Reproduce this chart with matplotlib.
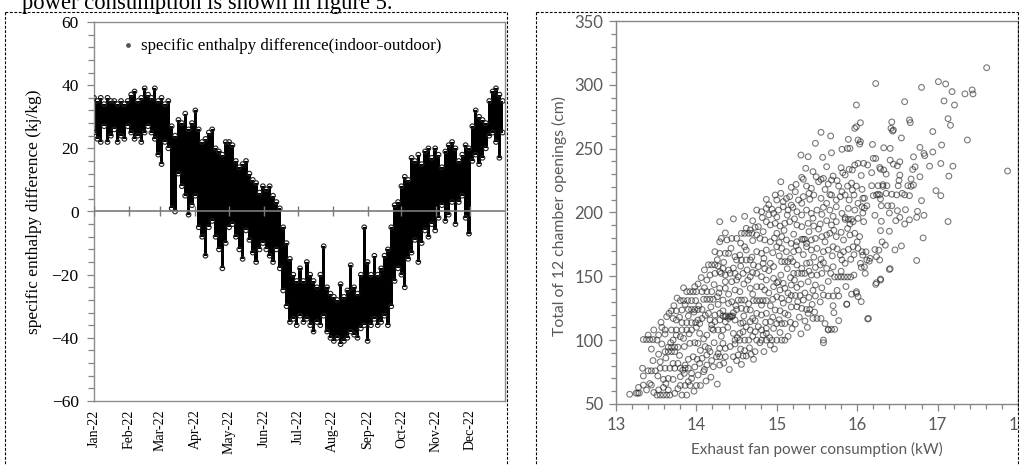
import numpy as np
import matplotlib.pyplot as plt
import matplotlib.dates as mdates
from matplotlib.ticker import MultipleLocator
from matplotlib.lines import Line2D

# ---- left panel: enthalpy difference, upper / lower edge of the cloud read every 3 days
day_of_year = np.arange(1, 365, 3)
dh_high = [36, 35, 36, 34, 36, 35, 35, 34, 35, 34,
           35, 37, 38, 35, 36, 39, 37, 36, 39, 35,
           36, 34, 35, 27, 24, 29, 28, 31, 26, 28,
           32, 26, 22, 23, 25, 26, 20, 19, 18, 22,
           22, 21, 16, 14, 15, 16, 12, 10, 9, 6,
           8, 7, 8, 5, 3, 1, -5, -10, -15, -20,
           -22, -18, -22, -16, -20, -22, -24, -20, -11, -24,
           -26, -27, -28, -23, -27, -25, -17, -24, -26, -20,
           -5, -16, -20, -14, -20, -18, -14, -12, -5, 2,
           3, 8, 11, 10, 17, 16, 18, 15, 19, 20,
           17, 20, 18, 14, 19, 21, 22, 20, 16, 18,
           21, 20, 27, 32, 30, 29, 28, 35, 38, 39,
           37, 35]
dh_low = [25, 23, 22, 27, 22, 24, 26, 22, 24, 23,
          27, 25, 23, 24, 22, 25, 27, 25, 23, 18,
          15, 22, 20, 1, 0, 12, 8, 5, -1, 2,
          5, -5, -8, -14, -5, -3, -8, -12, -18, -10,
          -5, -4, -8, -12, -15, -6, -9, -13, -16, -12,
          -10, -12, -14, -16, -12, -18, -25, -30, -35, -34,
          -36, -33, -35, -34, -36, -38, -35, -36, -33, -38,
          -40, -41, -40, -42, -41, -40, -38, -39, -40, -37,
          -36, -41, -36, -34, -36, -35, -33, -36, -30, -22,
          -18, -20, -24, -15, -13, -9, -16, -10, -6, -8,
          -4, -6, -2, 2, -3, -1, 3, -4, 3, 5,
          -2, -7, 16, 18, 15, 17, 20, 24, 25, 22,
          17, 25]
month_starts = np.arange('2022-01', '2023-01', dtype='datetime64[M]').astype('datetime64[D]')

# ---- right panel: exhaust fan power (kW) vs total chamber opening (cm)
run_cm = [58.5, 57, 64.5, 76, 78, 91, 87, 100.5, 94.5, 100, 100, 108, 108, 113,
          113.7, 117, 124, 131, 132, 131.4, 131, 135, 134.6, 138, 152.3, 149.5,
          159, 162.8, 161.5, 183.7, 179, 194.6, 119, 108.5]
run_kw = [[13.25, 13.27, 13.29], [13.51, 13.55, 13.59, 13.63, 13.67],
          [13.80, 13.86, 13.92, 14.00, 14.05], [13.40, 13.44, 13.49],
          [13.55, 13.61, 13.67, 13.73, 13.80, 13.86, 13.90], [13.61, 13.65, 13.69, 13.73],
          [14.25, 14.29, 14.36], [13.34, 13.38, 13.42, 13.46], [13.65, 13.69, 13.73, 13.77],
          [14.48, 14.54, 14.60, 14.65], [14.75, 14.81, 14.87, 14.94, 15.00, 15.06, 15.10],
          [13.61, 13.69, 13.75, 13.82, 13.88, 13.94], [14.21, 14.27, 14.33],
          [15.00, 15.06, 15.10], [13.82, 13.88, 13.94, 13.99], [15.45, 15.50, 15.55],
          [13.90, 13.94, 13.98, 14.02, 14.07], [13.80, 13.84, 13.89, 13.94, 13.99],
          [14.09, 14.13, 14.17, 14.21], [14.52, 14.56, 14.60],
          [14.71, 14.75, 14.79, 14.83, 14.87], [15.18, 15.23, 15.29], [15.64, 15.70, 15.77],
          [13.88, 13.92, 13.96, 14.00, 14.07, 14.13, 14.19], [15.21, 15.26, 15.31, 15.35],
          [15.72, 15.76, 15.80, 15.84, 15.88, 15.92], [14.15, 14.19, 14.23],
          [14.50, 14.56, 14.62, 14.67], [15.06, 15.10, 15.14, 15.20],
          [14.56, 14.60, 14.65, 14.69], [15.31, 15.33, 15.35], [15.85, 15.89, 15.93],
          [14.33, 14.37, 14.41, 14.45], [15.64, 15.68, 15.72]]

low_pts = [(13.17, 57.6), (13.34, 64.8), (13.44, 64.8), (13.53, 61), (13.59, 63), (13.65, 61),
           (13.73, 58.3), (13.82, 57), (13.88, 57), (14.26, 65.6), (13.59, 69.3), (13.65, 70),
           (13.71, 69.3), (13.80, 71.4), (13.90, 67.5), (13.94, 70), (13.94, 74), (14.02, 72.7),
           (14.09, 75.3), (13.34, 72), (13.42, 66), (13.55, 83.1), (13.71, 81.8), (13.77, 81.8),
           (13.86, 80.5), (14.04, 81.8), (14.13, 80.5), (14.21, 79.2), (14.29, 80.5), (13.90, 85),
           (13.96, 87), (14.01, 85), (14.07, 85.8), (14.13, 88.4), (14.46, 87), (14.52, 88.4),
           (14.58, 87.6), (14.62, 87.6), (14.71, 85), (14.73, 91), (13.92, 97.5), (13.98, 98),
           (14.02, 97.5), (14.11, 95), (14.15, 93.6), (14.17, 91), (14.29, 93.6), (14.36, 93.6),
           (14.42, 95), (14.84, 91), (14.92, 96.2), (14.60, 91.8), (15.58, 98),
           (13.38, 61), (13.47, 59), (13.62, 66), (13.77, 62), (13.97, 60), (14.12, 68),
           (13.52, 72), (13.85, 74), (14.18, 71), (13.28, 63), (13.33, 78), (13.46, 84),
           (13.62, 86), (13.79, 88), (13.98, 79), (14.19, 84), (14.34, 82), (14.41, 77),
           (14.56, 81), (14.68, 89), (13.53, 89), (14.27, 89.5), (13.83, 76.5), (14.10, 77),
           (14.50, 84), (13.44, 93), (13.57, 97), (13.85, 95), (14.05, 92), (14.22, 98),
           (14.48, 97), (14.66, 94), (14.79, 98), (14.97, 93), (13.68, 98), (14.33, 97.5),
           (14.55, 93)]
mid_pts = [(13.51, 100.1), (13.53, 104), (13.71, 100.1), (13.80, 102.7), (13.84, 101.4),
           (13.61, 104.8), (13.75, 104), (14.04, 105.3), (14.13, 104), (14.46, 105.3),
           (14.54, 105.3), (14.58, 106.6), (14.67, 108), (14.73, 106.6), (14.83, 104),
           (14.87, 105.3), (15.23, 112.6), (14.87, 109.2), (14.96, 109.2), (13.71, 117),
           (13.75, 115.8), (14.02, 115.8), (14.07, 117), (14.17, 115.8), (14.23, 114.5),
           (14.29, 115.8), (14.36, 114.5), (14.42, 118.4), (14.48, 115.8), (14.55, 113.2),
           (14.58, 113.7), (14.67, 114.5), (14.73, 115.3), (14.77, 110.6), (14.81, 108),
           (14.92, 114.5), (15.58, 100.1), (15.77, 115.3), (15.39, 121), (13.69, 123),
           (13.75, 123), (13.82, 123.6), (13.63, 118.4), (14.15, 121), (14.23, 119.7),
           (14.29, 121), (14.36, 118.4), (14.40, 117), (14.44, 118.4), (14.50, 124),
           (14.56, 124.9), (14.62, 124), (14.67, 123.6), (14.75, 121), (14.81, 119.7),
           (14.87, 121), (14.98, 123.6), (15.04, 123), (15.10, 121), (15.14, 119.7),
           (15.25, 126.2), (15.31, 124.9), (15.37, 124), (15.41, 124), (14.81, 127.5),
           (14.33, 131.4), (14.40, 128.8), (14.44, 130.1), (15.00, 134), (15.06, 132.7),
           (15.33, 131.4), (15.48, 134.6), (15.58, 135.4), (15.87, 128.3), (15.99, 136.7),
           (16.01, 134.1), (16.14, 117), (13.98, 141.9), (14.02, 144), (14.29, 140.6),
           (14.36, 140.6), (14.48, 139.3), (14.54, 138), (14.67, 140.6), (14.75, 141.9),
           (14.81, 141.9), (14.85, 139.3), (14.96, 141.9), (15.04, 139.3), (15.10, 140.6),
           (15.18, 143.2), (15.25, 141.3), (15.39, 145.8), (15.48, 143.2), (15.99, 138),
           (14.13, 147.1), (14.17, 151), (14.23, 152.3), (14.31, 152.3), (14.36, 151),
           (14.42, 152.3), (14.48, 152.3), (14.52, 149.7), (14.36, 145.8), (14.44, 145.8),
           (14.50, 147.1), (14.58, 152.3), (14.67, 149.7), (14.75, 152.3), (14.81, 149.7),
           (14.87, 147.1), (14.96, 148.4), (15.02, 145.8), (15.08, 144.5), (15.43, 151),
           (15.50, 151), (15.56, 152.3), (16.10, 152.3), (16.24, 145), (16.29, 147.1),
           (16.41, 156), (14.29, 153.6), (14.33, 156.2), (14.40, 154.9), (14.71, 158.9),
           (14.77, 157.6), (14.83, 160.2), (14.92, 160.2), (14.96, 157.6), (15.25, 158.9),
           (15.31, 156.2), (15.37, 160.2), (15.41, 160.7), (15.54, 158.9), (15.58, 160.7),
           (15.62, 156.2), (15.67, 152.3), (16.13, 116.6), (16.23, 143.7), (16.29, 147.9),
           (16.40, 155.4), (15.64, 108), (15.87, 128), (15.71, 121.5), (16.05, 130.2),
           (13.40, 104), (13.57, 110), (13.91, 105), (14.00, 110), (14.09, 101), (14.19, 109),
           (14.31, 103), (14.39, 110), (14.51, 102), (14.62, 110.5), (14.91, 102), (15.04, 106),
           (15.14, 103), (15.19, 109), (15.30, 105), (13.47, 108), (14.70, 103), (15.38, 110),
           (13.56, 114), (13.66, 121), (13.90, 119), (13.97, 122), (14.11, 119.5), (14.19, 112),
           (14.33, 123), (14.46, 121.5), (14.59, 119), (14.70, 117), (14.86, 114), (14.95, 118),
           (15.03, 116), (15.17, 114), (15.28, 118), (15.35, 115), (15.47, 122), (15.60, 113),
           (13.79, 118), (14.04, 113), (13.72, 127), (13.86, 128), (14.03, 127), (14.18, 126),
           (14.27, 128), (14.49, 127), (14.65, 128.5), (14.92, 127), (15.08, 129), (15.18, 126),
           (15.26, 130), (15.44, 128), (15.54, 130), (15.70, 127), (13.76, 133), (14.26, 134),
           (14.95, 132), (15.15, 131.5), (15.40, 133.5), (13.84, 141), (14.10, 141),
           (14.22, 143.5), (14.40, 136), (14.59, 144), (14.70, 136), (14.90, 137), (15.00, 145),
           (15.14, 137), (15.30, 144), (15.35, 137), (15.45, 139), (15.56, 141), (15.64, 146),
           (15.75, 139), (15.86, 142), (15.93, 136), (14.28, 137), (14.64, 147), (15.22, 147),
           (14.06, 149), (14.10, 155), (14.27, 158), (14.46, 156.5), (14.55, 158), (14.63, 155),
           (14.70, 153), (14.90, 154.5), (15.05, 151), (15.13, 156), (15.17, 149), (15.40, 154),
           (15.48, 157), (15.70, 157.5), (15.80, 154), (15.96, 151), (16.05, 157), (14.85, 156)]
upper_pts = [(15.81, 162.8), (15.85, 160.2), (15.92, 163.3), (16.04, 160.2), (16.12, 162.8),
             (16.16, 164.1), (16.24, 165.4), (16.28, 162.8), (14.23, 169.3), (14.29, 168),
             (14.36, 168), (14.40, 168), (14.48, 165.4), (14.54, 166.7), (14.60, 173.2),
             (14.62, 170.6), (14.75, 169.3), (14.81, 168), (14.87, 170.6), (15.00, 173.2),
             (15.06, 171.9), (15.12, 169.3), (15.21, 169.3), (15.27, 170.6), (15.37, 173.2),
             (15.43, 170.6), (15.50, 171.9), (15.58, 169.3), (15.64, 170.6), (15.70, 173.2),
             (15.79, 166.7), (15.83, 169.3), (15.89, 171.1), (15.95, 173.2), (16.01, 171.9),
             (16.06, 169.3), (14.29, 177.1), (14.38, 178.5), (14.44, 179.7), (14.50, 179.7),
             (14.75, 182.4), (14.79, 179.7), (14.85, 178.5), (14.92, 177.1), (15.00, 183.7),
             (15.06, 181.1), (15.12, 178.5), (15.18, 175.8), (15.25, 177.1), (15.37, 175.8),
             (15.43, 178.5), (15.48, 179.7), (15.56, 181.1), (15.62, 182.4), (15.66, 183.7),
             (15.74, 181.1), (15.83, 178.5), (15.91, 182.4), (15.97, 183.7), (16.03, 181.1),
             (14.62, 187.6), (14.67, 186.3), (14.73, 188.4), (14.77, 188.9), (14.87, 192.8),
             (14.92, 190.2), (14.98, 191.5), (15.04, 189.4), (15.10, 191.5), (15.16, 192.8),
             (15.25, 190.2), (15.31, 188.9), (15.39, 191.5), (15.46, 189.4), (15.54, 191),
             (15.62, 193.6), (15.68, 190.2), (15.74, 192.8), (15.95, 192.8), (16.01, 195.4),
             (16.08, 192.8), (14.75, 201.9), (14.81, 200.6), (14.87, 203.2), (14.96, 199.3),
             (15.02, 201.9), (15.08, 204.5), (15.14, 201.9), (15.20, 204), (15.25, 200.6),
             (15.31, 198), (15.37, 201.9), (15.43, 199.3), (15.50, 201.9), (15.58, 204),
             (15.66, 201.9), (15.74, 204.5), (15.81, 199.3), (15.89, 203.2), (15.97, 201.9),
             (16.06, 204.5), (14.29, 192.8), (14.31, 179.7), (16.80, 209.3), (16.29, 210.6),
             (16.09, 211.2), (16.30, 205.3), (16.38, 205.3), (16.43, 205.3), (16.50, 201.4),
             (16.60, 202.2), (16.75, 200.9), (16.83, 197.8), (17.13, 192.9), (16.09, 203.5),
             (16.12, 205.3), (16.07, 199.6), (16.22, 197.8), (16.30, 193.1), (16.40, 199.6),
             (16.48, 193.6), (16.53, 196.2), (16.59, 191), (16.65, 194.3), (16.74, 196.2),
             (16.29, 185.8), (16.40, 185.3), (16.82, 180.1), (16.31, 177), (16.35, 174.4),
             (16.22, 171), (16.27, 170.5), (16.47, 170.7), (16.55, 173.8), (16.11, 169.2),
             (16.15, 161.9), (16.09, 157.4), (16.07, 166.6), (16.74, 162.4),
             (14.26, 163), (14.34, 161), (14.43, 172), (14.69, 165), (14.84, 164), (15.03, 166),
             (15.17, 164), (15.33, 167), (15.46, 165), (15.55, 163.5), (15.69, 166), (15.75, 171.5),
             (15.96, 167), (14.95, 168.5), (15.24, 174), (14.36, 184), (14.55, 176), (14.70, 178),
             (14.83, 185), (14.97, 180), (15.09, 186), (15.21, 183), (15.40, 185), (15.52, 187),
             (15.60, 177), (15.71, 186), (15.80, 184.5), (15.88, 187.5), (16.00, 177),
             (15.03, 176.5), (14.46, 195), (14.60, 197), (14.70, 193.5), (14.82, 196),
             (15.00, 196.5), (15.13, 198), (15.22, 195), (15.45, 195.5), (15.56, 198.5),
             (15.70, 197), (15.85, 196), (15.91, 191), (14.90, 198.2)]
top_pts = [(14.98, 213.7), (15.00, 209.8), (15.08, 208.5), (14.87, 210.3), (14.94, 202.5),
           (15.16, 212.4), (15.18, 205.8), (15.27, 209.8), (15.31, 207.2), (15.33, 212.4),
           (15.41, 210.3), (15.46, 213.7), (15.55, 211.1), (15.62, 207.2), (15.68, 213.7),
           (15.74, 209.8), (15.79, 212.4), (15.85, 213.7), (15.90, 209.8), (15.96, 213.7),
           (16.01, 207.2), (16.07, 211.1), (15.05, 224.1), (15.18, 219.7), (15.23, 216.3),
           (15.37, 220.7), (15.43, 218.9), (15.52, 224.1), (15.55, 225.9), (15.64, 222.3),
           (15.68, 225.4), (15.77, 220.7), (15.81, 216.3), (15.88, 220.7), (15.94, 217.6),
           (15.99, 220.7), (16.06, 218.1), (15.30, 245), (15.39, 243.7), (15.57, 243.2),
           (15.36, 234.6), (15.45, 232), (15.31, 227.5), (15.33, 226), (15.62, 235.9),
           (15.70, 228.6), (15.58, 226.7), (15.82, 231.2), (15.85, 229.4), (15.90, 233.8),
           (15.94, 233.3), (15.97, 237.2), (16.01, 238.5), (16.08, 238.5), (15.99, 284.2),
           (15.99, 267.2), (16.04, 270.3), (15.97, 265.9), (16.45, 264.6), (16.59, 286.8),
           (15.55, 262.8), (15.67, 259.9), (15.48, 254.2), (15.89, 257.3), (15.91, 250.2),
           (16.01, 256.8), (16.03, 253.6), (16.04, 255.5), (15.68, 246.8), (15.81, 249.5),
           (15.88, 250.2), (17.61, 313.4), (16.23, 301), (16.80, 298), (17.01, 302.5),
           (17.10, 300.7), (17.18, 294.7), (17.34, 292.9), (17.43, 296), (17.44, 292.9),
           (17.08, 287.4), (17.21, 284.2), (17.13, 273.5), (17.16, 268.3), (16.43, 270.9),
           (16.42, 265.9), (16.44, 263.8), (16.65, 272.5), (16.66, 270.4), (16.55, 258.4),
           (16.94, 263.4), (17.37, 256.8), (17.87, 232.5), (17.05, 252.9), (16.78, 251),
           (16.83, 246.3), (16.84, 244.5), (16.94, 247.4), (16.33, 250.7), (16.41, 250.2),
           (16.19, 253.3), (16.23, 242.3), (16.70, 243.6), (16.72, 235.8), (16.69, 233.7),
           (16.90, 236.3), (17.04, 238.4), (17.19, 236.3), (17.14, 228.5), (16.53, 239.7),
           (16.50, 236.6), (16.41, 241), (16.45, 237.9), (16.28, 235.3), (16.29, 234),
           (16.36, 230.1), (16.53, 229.3), (16.78, 228), (16.67, 226.2), (16.70, 221.5),
           (16.32, 221.8), (16.37, 221), (16.32, 220.5), (16.51, 221), (16.63, 221),
           (16.67, 220.5), (16.26, 221), (16.18, 221), (16.52, 225.1), (16.98, 217.1),
           (17.04, 213.2), (16.26, 214.3), (16.24, 213.8), (16.28, 213.8), (16.20, 213.2),
           (16.36, 215), (16.43, 214.3), (16.49, 213.8), (16.56, 215), (16.59, 213.8),
           (16.65, 213.2), (16.18, 231.2), (16.13, 237.2), (16.20, 242.4), (16.33, 233.3),
           (14.90, 206), (15.05, 215), (15.12, 211), (15.24, 222), (15.40, 215), (15.49, 228),
           (15.60, 218), (15.75, 225), (15.80, 235), (15.93, 223), (16.05, 229), (15.66, 214)]

W, H = 1020, 465
fig = plt.figure(figsize=(W / 100, H / 100), dpi=100)

serif = 'Liberation Serif'
sans = 'Lato'
grey = '#868686'
txt = '#595959'

# ---------------- left chart
ax1 = fig.add_axes([94 / W, 1 - 401 / H, 411 / W, 379 / H])
dates = np.datetime64('2022-01-01') + (day_of_year - 1).astype('timedelta64[D]')
ax1.fill_between(dates, dh_low, dh_high, step='mid', color='black', lw=0, zorder=2)
ax1.scatter(dates, dh_high, s=11, facecolors='none', edgecolors='#202020', linewidths=0.8, zorder=3)
ax1.scatter(dates, dh_low, s=11, facecolors='none', edgecolors='#202020', linewidths=0.8, zorder=3)
ax1.scatter([], [], s=6, color='#555555', label='specific enthalpy difference(indoor-outdoor)')

ax1.axhline(0, color='#7a7a7a', lw=1.2, zorder=4)
ax1.plot(month_starts, np.zeros(len(month_starts)), '|', ms=7, mew=1.0, color='#7a7a7a', zorder=4)

ax1.set_xlim(np.datetime64('2022-01-01'), np.datetime64('2023-01-01'))
ax1.set_ylim(-60, 60)
ax1.set_yticks([-60, -40, -20, 0, 20, 40, 60])
ax1.yaxis.set_minor_locator(MultipleLocator(4))
ax1.set_xticks(month_starts)
ax1.xaxis.set_major_formatter(mdates.DateFormatter('%b-%y'))
ax1.tick_params(axis='x', length=0, pad=6, labelsize=10, rotation=90)
ax1.tick_params(axis='y', which='major', direction='out', length=5, width=0.9,
                color=grey, labelsize=12.5, pad=6)
ax1.tick_params(axis='y', which='minor', direction='out', length=4, width=0.9, color=grey)
for lab in ax1.get_xticklabels() + ax1.get_yticklabels():
    lab.set_family(serif)
for sp in ax1.spines.values():
    sp.set_color('#8c8c8c')
    sp.set_linewidth(1.0)
ax1.set_ylabel('specific enthalpy difference (kj/kg)', family=serif, fontsize=12.5)
ax1.yaxis.set_label_coords(-0.126, 0.5)
leg = ax1.legend(loc='center left', bbox_to_anchor=(0.07, 0.937), frameon=False,
                 handlelength=0.6, handletextpad=0.5, borderpad=0, borderaxespad=0,
                 prop={'family': serif, 'size': 12.2})

# ---------------- right chart
ax2 = fig.add_axes([616 / W, 1 - 404 / H, 402 / W, 383 / H])
mk = dict(s=17, facecolors='none', edgecolors=(0.15, 0.15, 0.15, 0.62), linewidths=0.8)
for pts in (low_pts, mid_pts, upper_pts, top_pts):
    kw, cm = zip(*pts)
    ax2.scatter(kw, cm, **mk)
for level, xs in zip(run_cm, run_kw):
    ax2.scatter(xs, np.full(len(xs), level), **mk)

ax2.set_xlim(13, 18)
ax2.set_ylim(50, 350)
ax2.set_xticks([13, 14, 15, 16, 17, 18])
ax2.set_yticks([50, 100, 150, 200, 250, 300, 350])
ax2.xaxis.set_minor_locator(MultipleLocator(0.2))
ax2.yaxis.set_minor_locator(MultipleLocator(10))
ax2.tick_params(which='major', direction='out', length=5, width=0.9, color=grey,
                labelcolor=txt, labelsize=12, pad=4)
ax2.tick_params(which='minor', direction='out', length=3.5, width=0.9, color=grey)
for lab in ax2.get_xticklabels() + ax2.get_yticklabels():
    lab.set_family(sans)
for sp in ax2.spines.values():
    sp.set_color(grey)
    sp.set_linewidth(1.0)
ax2.set_xlabel('Exhaust fan power consumption (kW)', family=sans, fontsize=11, color=txt, labelpad=7)
ax2.set_ylabel('Total of 12 chamber openings (cm)', family=sans, fontsize=11.3, color=txt)
ax2.yaxis.set_label_coords(-0.122, 0.49)

# ---------------- page bits: dashed frames and the sentence cut by the top edge
dash = dict(color='black', lw=0.8, linestyle=(0, (2.5, 1.5)), transform=fig.transFigure)
for x0, x1 in ((5, 507), (536, 1018)):
    fig.add_artist(Line2D([x0 / W, x1 / W], [1 - 12 / H, 1 - 12 / H], **dash))
    fig.add_artist(Line2D([x0 / W, x0 / W], [1 - 12 / H, 0], **dash))
    fig.add_artist(Line2D([x1 / W, x1 / W], [1 - 12 / H, 0], **dash))
fig.text(22 / W, 1 - 9 / H, 'power consumption is shown in figure 5.', family=serif,
         fontsize=16.3, va='baseline', ha='left')

fig.savefig('out.png', dpi=100)
